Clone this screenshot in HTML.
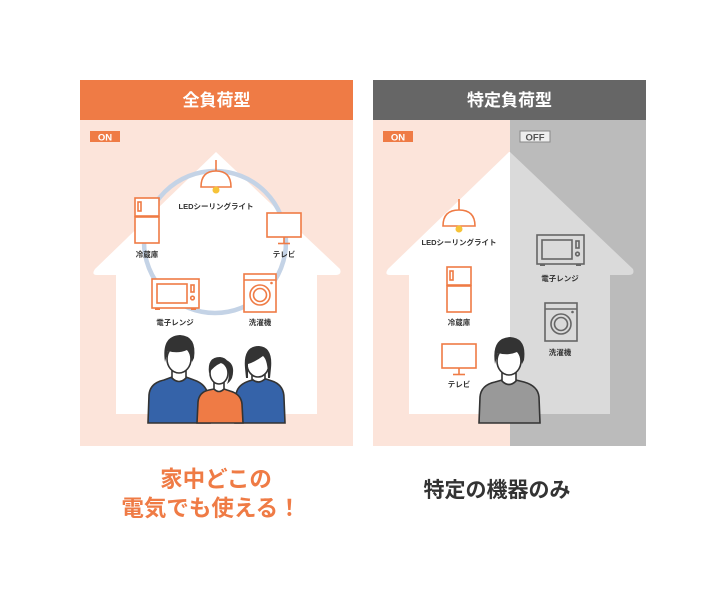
<!DOCTYPE html>
<html><head><meta charset="utf-8"><style>
html,body{margin:0;padding:0;background:#fff;}
svg{display:block;}
text{font-family:"Liberation Sans","Noto Sans CJK JP",sans-serif;font-weight:bold;}
</style></head><body>
<svg width="726" height="600" viewBox="0 0 726 600" xmlns="http://www.w3.org/2000/svg">
<!-- LEFT PANEL -->
<rect x="80" y="80" width="273" height="40" fill="#EF7B45"/>
<text x="216.5" y="106" font-size="17" fill="#fff" text-anchor="middle">全負荷型</text>
<rect x="80" y="120" width="273" height="326" fill="#FCE4DA"/>
<rect x="90" y="131" width="30" height="11" fill="#EF7B45"/>
<text x="105" y="140.5" font-size="9.5" fill="#fff" text-anchor="middle">ON</text>
<path d="M216 152 L340 269 Q342 275 336 275 L317 275 L317 414 L116 414 L116 275 L97 275 Q91 275 95 269 Z" fill="#fff"/>
<circle cx="215" cy="242" r="71" fill="none" stroke="#C4D3E6" stroke-width="4.5"/>
<g fill="none" stroke="#EF7B45" stroke-width="1.6">
 <line x1="216" y1="160" x2="216" y2="171"/>
 <path d="M201 187 Q201 171 216 171 Q231 171 231 187 Z" fill="#fff"/>
 <rect x="135" y="198" width="24" height="18" fill="#fff"/>
 <rect x="138" y="202" width="3" height="9"/>
 <rect x="135" y="217" width="24" height="26" fill="#fff"/>
 <rect x="267" y="213" width="34" height="24" fill="#fff"/>
 <line x1="284" y1="237" x2="284" y2="243"/><line x1="278" y1="243.5" x2="290" y2="243.5"/>
 <rect x="152" y="279" width="47" height="29" fill="#fff"/>
 <rect x="157" y="284" width="30" height="19"/>
 <rect x="191" y="285" width="3" height="7"/><circle cx="192.5" cy="298" r="1.8"/>
 <rect x="244" y="274" width="32" height="38" fill="#fff"/>
 <line x1="244" y1="280" x2="276" y2="280"/>
 <circle cx="260" cy="295" r="10"/><circle cx="260" cy="295" r="6.5"/>
</g>
<circle cx="216" cy="190" r="3.5" fill="#F6C338"/>
<circle cx="271.5" cy="283" r="1.3" fill="#EF7B45"/>
<rect x="155" y="308" width="5" height="2" fill="#EF7B45"/><rect x="191" y="308" width="5" height="2" fill="#EF7B45"/>
<g font-size="7.5" fill="#333" text-anchor="middle">
<text x="216" y="209">LEDシーリングライト</text>
<text x="147" y="257">冷蔵庫</text>
<text x="284" y="257">テレビ</text>
<text x="175" y="325">電子レンジ</text>
<text x="260" y="325">洗濯機</text>
</g>
<!-- family -->
<g stroke="#333" stroke-width="1.6">
 <path d="M148 423 L149 395 Q150 383 164 380 L172 377 L186 377 L194 380 Q206 384 208 395 L210 423 Z" fill="#3563A9"/>
 <path d="M235 423 L236 395 Q237 385 249 381 L256 379 L266 379 L272 381 Q284 385 284 398 L285 423 Z" fill="#3563A9"/>
 <path d="M197 423 L198 402 Q199 392 209 390 L214 389 L224 389 L230 391 Q241 394 242 404 L243 423 Z" fill="#EF7B45"/>
 <path d="M172 367 L172 378 Q179 385 186 378 L186 367 Z" fill="#fff"/>
 <path d="M214 380 L214 389 Q219 394 224 389 L224 380 Z" fill="#fff"/>
 <path d="M252 369 L252 379 Q258 385 265 379 L265 369 Z" fill="#fff"/>
 <ellipse cx="179" cy="359" rx="12" ry="14" fill="#fff"/>
 <ellipse cx="219" cy="373" rx="9" ry="11" fill="#fff"/>
 <ellipse cx="258" cy="364" rx="11" ry="13" fill="#fff"/>
</g>
<g fill="#333">
 <path d="M165 362 Q161 336 180 335 Q197 336 194 358 L192 362 Q190 353 187 350 Q178 354 168 351 Z"/>
 <path d="M209 373 Q207 357 220 357 Q231 358 229 373 Q226 364 221 363 Q214 366 209 373 Z"/>
 <path d="M226 360 Q236 364 232 378 Q230 382 227 384 Q231 374 226 366 Z"/>
 <path d="M245 368 Q243 346 259 346 Q273 347 271 368 L270 378 L268 378 Q268 360 263 356 Q255 362 248 364 L248 378 L246 378 Z"/>
</g>
<!-- RIGHT PANEL -->
<rect x="373" y="80" width="273" height="40" fill="#666666"/>
<text x="509.5" y="106" font-size="17" fill="#fff" text-anchor="middle">特定負荷型</text>
<rect x="373" y="120" width="137" height="326" fill="#FCE4DA"/>
<rect x="510" y="120" width="136" height="326" fill="#BBBBBB"/>
<rect x="383" y="131" width="30" height="11" fill="#EF7B45"/>
<text x="398" y="140.5" font-size="9.5" fill="#fff" text-anchor="middle">ON</text>
<rect x="520" y="131" width="30" height="11" fill="#eee" stroke="#888" stroke-width="1"/>
<text x="535" y="140.5" font-size="9.5" fill="#555" text-anchor="middle">OFF</text>
<path d="M509 152 L510 152 L510 414 L409 414 L409 275 L390 275 Q384 275 388 269 Z" fill="#fff"/>
<path d="M510 152 L633 269 Q635 275 629 275 L610 275 L610 414 L510 414 Z" fill="#DADADA"/>
<g fill="none" stroke="#EF7B45" stroke-width="1.6">
 <line x1="459" y1="199" x2="459" y2="210"/>
 <path d="M443 226 Q443 210 459 210 Q475 210 475 226 Z" fill="#fff"/>
 <rect x="447" y="267" width="24" height="18" fill="#fff"/>
 <rect x="450" y="271" width="3" height="9"/>
 <rect x="447" y="286" width="24" height="26" fill="#fff"/>
 <rect x="442" y="344" width="34" height="24" fill="#fff"/>
 <line x1="459" y1="368" x2="459" y2="374"/><line x1="453" y1="374.5" x2="465" y2="374.5"/>
</g>
<circle cx="459" cy="229" r="3.5" fill="#F6C338"/>
<g fill="none" stroke="#666" stroke-width="1.6">
 <rect x="537" y="235" width="47" height="29"/>
 <rect x="542" y="240" width="30" height="19"/>
 <rect x="576" y="241" width="3" height="7"/><circle cx="577.5" cy="254" r="1.8"/>
 <rect x="545" y="303" width="32" height="38"/>
 <line x1="545" y1="309" x2="577" y2="309"/>
 <circle cx="561" cy="324" r="10"/><circle cx="561" cy="324" r="6.5"/>
</g>
<rect x="540" y="264" width="5" height="2" fill="#666"/><rect x="576" y="264" width="5" height="2" fill="#666"/>
<circle cx="572.5" cy="312" r="1.3" fill="#666"/>
<g font-size="7.5" fill="#333" text-anchor="middle">
<text x="459" y="245">LEDシーリングライト</text>
<text x="459" y="325">冷蔵庫</text>
<text x="459" y="387">テレビ</text>
<text x="560" y="281">電子レンジ</text>
<text x="560" y="355">洗濯機</text>
</g>
<g stroke="#333" stroke-width="1.6">
 <path d="M479 423 L480 397 Q481 385 495 382 L502 380 L516 380 L524 382 Q538 386 539 397 L540 423 Z" fill="#999999"/>
 <path d="M502 368 L502 381 Q509 388 516 381 L516 368 Z" fill="#fff"/>
 <ellipse cx="509" cy="361" rx="12" ry="14" fill="#fff"/>
</g>
<path d="M495 364 Q491 338 510 337 Q527 338 524 360 L522 364 Q520 355 517 352 Q508 356 498 353 Z" fill="#333"/>
<!-- bottom text -->
<text x="216" y="487" font-size="22.5" fill="#EF7B45" text-anchor="middle">家中どこの</text>
<text x="211" y="516" font-size="22.5" fill="#EF7B45" text-anchor="middle">電気でも使える！</text>
<text x="497" y="497" font-size="21" fill="#333" text-anchor="middle">特定の機器のみ</text>
</svg>
</body></html>
